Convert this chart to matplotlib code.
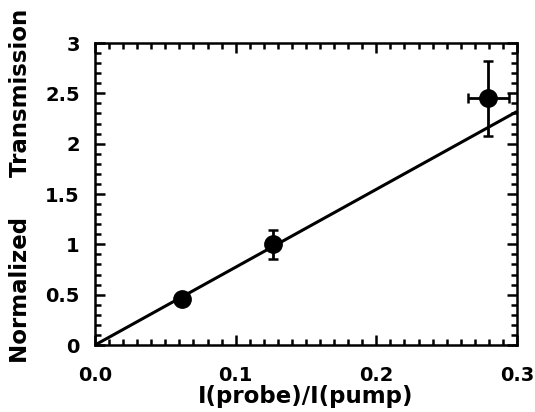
import numpy as np
import matplotlib
matplotlib.use("Agg")
import matplotlib.pyplot as plt
from matplotlib.ticker import MultipleLocator, FuncFormatter

# measured points
ratio = [0.062, 0.1265, 0.2795]
ratio_err = [0.0, 0.003, 0.0145]
trans = [0.46, 1.0, 2.45]
trans_err = [0.0, 0.145, 0.375]

# linear fit through the origin
fit_x = [0.0, 0.3]
fit_y = [0.0, 2.32]

plt.rcParams['font.family'] = ['DejaVu Sans']
plt.rcParams['font.weight'] = 'bold'

fig = plt.figure(figsize=(5.35, 4.12), dpi=100)
ax = fig.add_axes([0.1776, 0.1626, 0.7888, 0.733])

ax.plot(fit_x, fit_y, color='black', lw=2.2, solid_capstyle='butt')
ax.errorbar(ratio, trans, xerr=ratio_err, yerr=trans_err, fmt='o', color='black',
            ms=12.5, elinewidth=2, capsize=3.5, capthick=1.8, zorder=3)

ax.set_xlim(0, 0.3)
ax.set_ylim(0, 3)
ax.xaxis.set_major_locator(MultipleLocator(0.1))
ax.xaxis.set_minor_locator(MultipleLocator(0.01))
ax.yaxis.set_major_locator(MultipleLocator(0.5))
ax.yaxis.set_minor_locator(MultipleLocator(0.1))
ax.xaxis.set_major_formatter(FuncFormatter(lambda v, p: f"{v:.1f}"))
ax.yaxis.set_major_formatter(FuncFormatter(lambda v, p: f"{v:g}"))

ax.tick_params(which='both', direction='in', top=True, right=True, width=1.8)
ax.tick_params(which='major', length=7)
ax.tick_params(which='minor', length=4)
ax.tick_params(axis='x', which='major', pad=15, labelsize=14)
ax.tick_params(axis='y', which='major', pad=11, labelsize=14)
for s in ax.spines.values():
    s.set_linewidth(1.8)

ax.set_xlabel("I(probe)/I(pump)", fontsize=16.5, fontweight='bold')
ax.xaxis.set_label_coords(0.5, -0.133)
ax.set_ylabel("Normalized     Transmission", fontsize=16.5, fontweight='bold')
ax.yaxis.set_label_coords(-0.15, 0.528)

fig.savefig("out.png", dpi=100)
